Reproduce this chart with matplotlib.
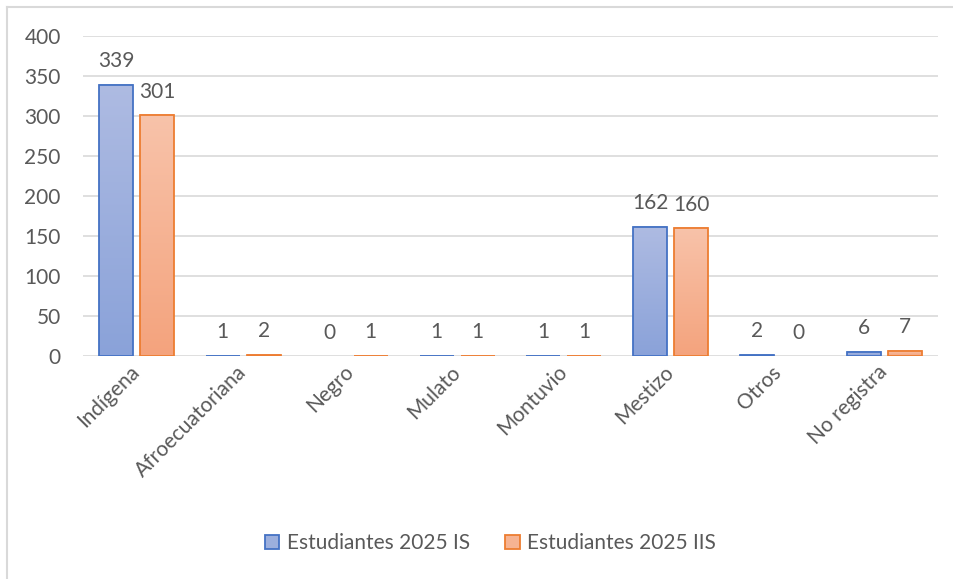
import numpy as np
import matplotlib
matplotlib.use("Agg")
import matplotlib.pyplot as plt
from matplotlib.colors import LinearSegmentedColormap
from matplotlib.patches import Patch
from matplotlib.lines import Line2D

# data
categories = ["Indígena", "Afroecuatoriana", "Negro", "Mulato",
              "Montuvio", "Mestizo", "Otros", "No registra"]
estudiantes_is = [339, 1, 0, 1, 1, 162, 2, 6]
estudiantes_iis = [301, 2, 1, 1, 1, 160, 0, 7]
series_names = ["Estudiantes 2025 IS", "Estudiantes 2025 IIS"]
y_ticks = [0, 50, 100, 150, 200, 250, 300, 350, 400]

TEXT = "#595959"
GRID = "#d9d9d9"
FS = 15

plt.rcParams["font.family"] = ["Lato", "DejaVu Sans"]


def gradient_bars(ax, xs, vals, width, top, bottom, edge):
    bars = ax.bar(xs, vals, width, facecolor="none", edgecolor=edge,
                  linewidth=1.3, zorder=3)
    cmap = LinearSegmentedColormap.from_list("grad", [bottom, top])
    grad = np.linspace(0, 1, 256).reshape(-1, 1)
    for b, v in zip(bars, vals):
        if v == 0:
            b.set_linewidth(0)
            continue
        ax.imshow(grad, cmap=cmap, origin="lower", aspect="auto",
                  extent=[b.get_x(), b.get_x() + b.get_width(), 0, v],
                  zorder=2)
    return bars


fig = plt.figure(figsize=(9.54, 5.79), dpi=100)
ax = fig.add_axes([0.087, 0.3843, 0.8962, 0.5535])

x = np.arange(len(categories))
width = 0.318
off = 0.192

gradient_bars(ax, x - off, estudiantes_is, width, "#aebbe2", "#8aa2d9", "#4472c4")
gradient_bars(ax, x + off, estudiantes_iis, width, "#f8c3aa", "#f4a37d", "#ed7d31")

for xs, vals in ((x - off, estudiantes_is), (x + off, estudiantes_iis)):
    for xp, v in zip(xs, vals):
        ax.annotate(str(v), (xp, v), xytext=(0, 17), textcoords="offset points",
                    ha="center", va="center", fontsize=FS, color=TEXT)

ax.set_xlim(-0.5, len(categories) - 0.5)
ax.set_ylim(0, 400)
ax.set_yticks(y_ticks)
ax.yaxis.grid(True, color=GRID, linewidth=1.2, zorder=0)
ax.set_axisbelow(True)
for s in ax.spines.values():
    s.set_visible(False)

ax.set_xticks(x)
ax.set_xticklabels(categories, rotation=45, ha="right", va="center",
                   rotation_mode="anchor")
ax.tick_params(axis="y", length=0, pad=16, labelsize=FS, labelcolor=TEXT)
ax.tick_params(axis="x", length=0, pad=9, labelsize=FS, labelcolor=TEXT)

handles = [Patch(facecolor="#9cafdd", edgecolor="#4472c4", linewidth=1.3),
           Patch(facecolor="#f6b392", edgecolor="#ed7d31", linewidth=1.3)]
fig.legend(handles, series_names, loc="center", bbox_to_anchor=(0.514, 0.062),
           bbox_transform=fig.transFigure, ncol=2, frameon=False,
           handlelength=0.7, handleheight=0.7, handletextpad=0.35,
           columnspacing=1.7, fontsize=FS, labelcolor=TEXT)

# chart border (top and left visible)
fig.add_artist(Line2D([7 / 954, 1], [1 - 7 / 579, 1 - 7 / 579],
                      transform=fig.transFigure, color=GRID, linewidth=1.5))
fig.add_artist(Line2D([7 / 954, 7 / 954], [0, 1 - 7 / 579],
                      transform=fig.transFigure, color=GRID, linewidth=1.5))

fig.savefig("out.png", dpi=100)
